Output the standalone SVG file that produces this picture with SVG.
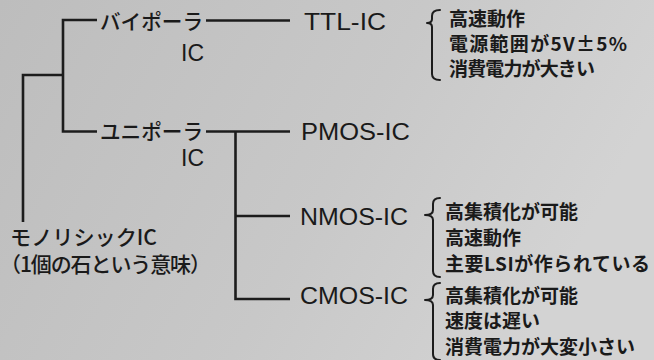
<svg xmlns="http://www.w3.org/2000/svg" width="654" height="360" viewBox="0 0 654 360">
<defs>
<linearGradient id="bg" x1="0" y1="0" x2="1" y2="0.3">
<stop offset="0" stop-color="#bdbdbd"/>
<stop offset="0.6" stop-color="#c8c8c8"/>
<stop offset="1" stop-color="#d3d3d3"/>
</linearGradient>
<style>
.ln{fill:none;stroke:#1c1c1c;stroke-width:2.6;stroke-linecap:butt;stroke-linejoin:miter}
.br{fill:none;stroke:#1c1c1c;stroke-width:2;stroke-linecap:round;stroke-linejoin:round}
.jp{font-family:"Noto Sans CJK JP","Noto Sans",sans-serif;font-size:21px;font-weight:500;fill:#1a1a1a}
.en{font-family:"Liberation Sans",Arial,sans-serif;font-size:23px;fill:#1a1a1a}
.nt{font-family:"Noto Sans CJK JP","Noto Sans",sans-serif;font-size:19px;font-weight:bold;fill:#1a1a1a}
</style>
</defs>
<rect width="654" height="360" fill="url(#bg)"/>
<g id="connectors">
<path class="ln" d="M23 222 V75 H63"/>
<path class="ln" d="M97 20 H63 V131.5 H97"/>
<path class="ln" d="M206 20.5 H290"/>
<path class="ln" d="M206 131.5 H290"/>
<path class="ln" d="M235.5 131.5 V299 H290"/>
<path class="ln" d="M235.5 216 H290"/>
</g>
<g id="monolithic">
<text class="jp" x="10" y="245" textLength="147" lengthAdjust="spacingAndGlyphs">モノリシックIC</text>
<text class="jp" x="0" y="272" textLength="211" lengthAdjust="spacing">（1個の石という意味）</text>
</g>
<g id="bipolar">
<text class="jp" x="100" y="29" textLength="103" lengthAdjust="spacingAndGlyphs">バイポーラ</text>
<text class="en" x="181" y="61" textLength="23" lengthAdjust="spacingAndGlyphs">IC</text>
</g>
<g id="unipolar">
<text class="jp" x="100" y="139" textLength="103" lengthAdjust="spacingAndGlyphs">ユニポーラ</text>
<text class="en" x="181" y="166" textLength="23" lengthAdjust="spacingAndGlyphs">IC</text>
</g>
<g id="ttl">
<text class="en" x="304" y="30" textLength="82" lengthAdjust="spacingAndGlyphs">TTL-IC</text>
<path class="br" d="M440 10 Q432 10 432 16 V19 Q432 23 427 23 Q432 23 432 27 V74 Q432 80 440 80"/>
<text class="nt" x="449" y="26">高速動作</text>
<text class="nt" x="449" y="51" textLength="178" lengthAdjust="spacing">電源範囲が5V±5%</text>
<text class="nt" x="449" y="76" textLength="146" lengthAdjust="spacing">消費電力が大きい</text>
</g>
<g id="pmos">
<text class="en" x="301" y="140" textLength="109" lengthAdjust="spacingAndGlyphs">PMOS-IC</text>
</g>
<g id="nmos">
<text class="en" x="300" y="225" textLength="108" lengthAdjust="spacingAndGlyphs">NMOS-IC</text>
<path class="br" d="M440 198 Q433 198 433 204 V210 Q433 215 425 215 Q433 215 433 220 V271 Q433 277 440 277"/>
<text class="nt" x="445" y="219">高集積化が可能</text>
<text class="nt" x="445" y="245">高速動作</text>
<text class="nt" x="445" y="271" textLength="205" lengthAdjust="spacing">主要LSIが作られている</text>
</g>
<g id="cmos">
<text class="en" x="300" y="304" textLength="108" lengthAdjust="spacingAndGlyphs">CMOS-IC</text>
<path class="br" d="M440 283 Q433 283 433 289 V295 Q433 300 425 300 Q433 300 433 305 V354 Q433 360 440 360"/>
<text class="nt" x="445" y="303">高集積化が可能</text>
<text class="nt" x="445" y="328">速度は遅い</text>
<text class="nt" x="445" y="354">消費電力が大変小さい</text>
</g>
</svg>
